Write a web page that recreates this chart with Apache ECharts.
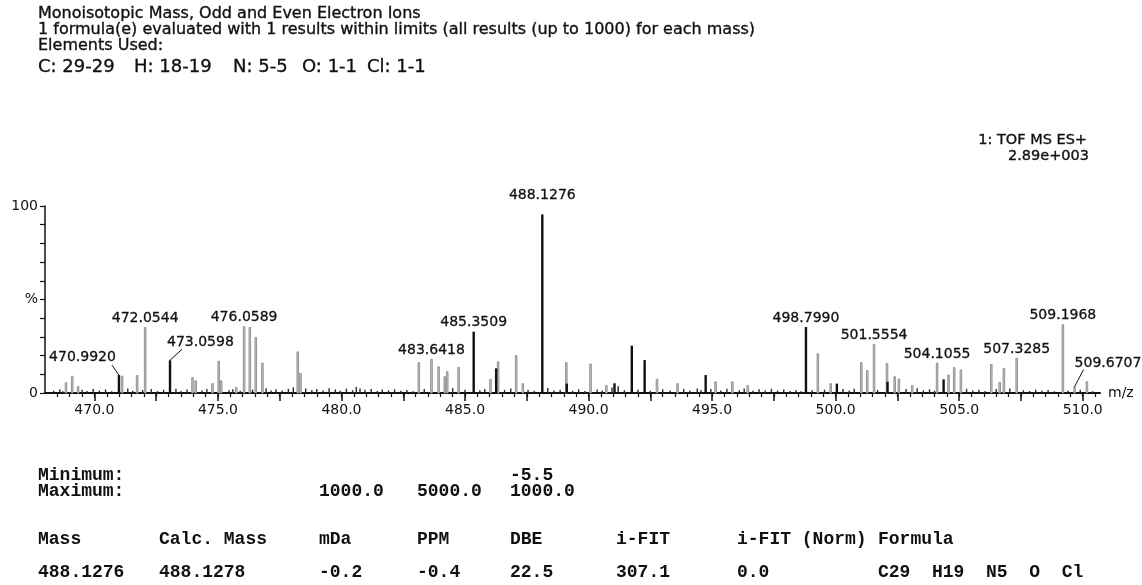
<!DOCTYPE html>
<html>
<head>
<meta charset="utf-8">
<script src="https://cdn.jsdelivr.net/npm/echarts@6/dist/echarts.min.js"></script>
<style>
  html, body { margin: 0; padding: 0; background: #fff; }
  #chart { width: 1142px; height: 585px; }
</style>
</head>
<body>
<div id="chart"></div>
<script>
// ---- spectrum data: [m/z, relative intensity %] ----
// labelled peaks (label text is the m/z value)
const blackLabelled = [
  [470.9920, 9.6], [473.0598, 17.5], [485.3509, 32.8], [488.1276, 95.5], [498.7990, 35.3]
];
const grayLabelled = [
  [472.0544, 35.0], [476.0589, 35.5], [483.6418, 18.0], [501.5554, 26.0],
  [504.1055, 16.0], [507.3285, 18.5], [509.1968, 36.5], [509.6707, 3.4]
];
// unlabelled peaks
const blackPeaks = [
  [486.26, 13.2], [489.12, 5.0], [491.05, 5.2], [491.75, 25.3], [492.27, 17.6],
  [494.74, 9.6], [500.05, 5.0], [502.10, 6.0], [504.37, 7.3]
];
const grayPeaks = [
  [468.85, 5.5], [469.10, 9.0], [469.34, 3.5], [471.12, 9.0], [471.73, 9.3],
  [473.97, 8.2], [474.10, 6.5], [474.78, 5.0], [475.03, 17.0], [475.13, 6.5],
  [475.74, 3.0], [476.29, 35.0], [476.53, 29.7], [476.80, 16.0], [478.23, 22.0],
  [478.34, 10.5], [483.13, 16.2], [483.93, 14.0], [484.18, 8.7], [484.28, 11.4],
  [484.74, 13.7], [486.03, 7.3], [486.34, 16.7], [487.07, 20.0], [487.34, 5.0],
  [489.10, 16.2], [490.08, 15.5], [490.72, 4.0], [492.77, 7.3], [493.60, 5.0],
  [495.14, 6.0], [495.82, 6.0], [496.44, 4.0], [499.28, 21.0], [499.80, 5.0],
  [501.04, 16.3], [501.28, 12.0], [502.08, 15.8], [502.39, 8.7], [502.56, 7.5],
  [503.10, 4.0], [504.57, 9.6], [504.80, 13.6], [505.07, 12.3], [506.30, 15.3],
  [506.64, 5.7], [506.81, 13.2], [510.17, 6.0]
];
// baseline noise spikes
const noisePeaks = [
  [468.35, 1.2], [468.60, 2.0], [468.72, 1.0], [469.50, 1.8], [469.70, 1.1], [469.95, 2.2],
  [470.20, 1.3], [470.45, 1.9], [470.70, 1.0], [471.35, 2.4], [471.55, 1.2], [471.95, 1.6],
  [472.30, 2.1], [472.55, 1.0], [472.80, 1.7], [473.30, 2.3], [473.50, 1.1], [473.75, 1.9],
  [474.35, 1.4], [474.55, 2.2], [475.45, 1.5], [475.60, 2.0], [475.90, 1.2], [476.40, 1.8],
  [476.95, 2.5], [477.15, 1.3], [477.35, 2.0], [477.60, 1.4], [477.85, 2.2], [478.05, 3.0],
  [478.55, 2.4], [478.80, 1.6], [479.00, 2.1], [479.25, 1.3], [479.50, 2.6], [479.75, 1.9],
  [479.95, 1.2], [480.20, 2.3], [480.45, 1.5], [480.60, 3.2], [480.75, 2.4], [480.95, 1.7],
  [481.20, 2.2], [481.45, 1.1], [481.65, 1.9], [481.90, 1.4], [482.15, 2.0], [482.40, 1.2],
  [482.65, 1.6], [482.90, 1.0], [483.35, 2.2], [484.50, 2.6], [485.00, 1.8], [485.60, 1.5],
  [485.80, 2.1], [486.60, 1.7], [486.85, 2.4], [487.55, 1.8], [487.80, 1.2], [488.35, 2.7],
  [488.60, 1.3], [488.85, 1.8], [489.35, 1.2], [489.60, 2.0], [489.85, 1.1], [490.35, 1.9],
  [490.55, 1.3], [490.95, 3.0], [491.20, 3.6], [491.45, 1.5], [492.00, 1.8], [492.50, 1.2],
  [493.00, 2.0], [493.30, 1.4], [493.85, 2.1], [494.10, 1.3], [494.40, 2.4], [494.55, 1.6],
  [494.95, 2.2], [495.35, 1.4], [495.60, 2.3], [496.10, 1.5], [496.30, 2.4], [496.65, 1.2],
  [496.90, 2.0], [497.15, 1.4], [497.40, 2.2], [497.65, 1.3], [497.90, 1.9], [498.15, 1.1],
  [498.40, 1.6], [498.60, 1.0], [499.05, 1.5], [499.55, 1.8], [500.30, 2.2], [500.55, 1.4],
  [500.75, 2.3], [501.70, 1.6], [502.85, 2.1], [503.30, 2.6], [503.55, 1.4], [503.80, 2.0],
  [504.00, 1.2], [505.30, 2.2], [505.55, 1.3], [505.80, 1.8], [506.05, 1.1], [506.50, 2.1],
  [507.05, 2.4], [507.60, 1.5], [507.85, 1.1], [508.10, 1.8], [508.35, 1.2], [508.60, 1.6],
  [508.85, 1.0], [509.40, 1.3], [509.90, 1.7], [510.40, 1.0]
];

// ---- axis ticks ----
const mzLabelTicks = [470, 475, 480, 485, 490, 495, 500, 505, 510];
const mzMajorTicks = [470, 472.5, 475, 477.5, 480, 482.5, 485, 487.5, 490, 492.5,
                      495, 497.5, 500, 502.5, 505, 507.5, 510];
const mzMinorTicks = [];
for (let v = 468.5; v <= 510.5; v += 0.5) mzMinorTicks.push(v);
const intensityLabelTicks = [0, 50, 100];
const intensityLabelText = { 0: '0', 50: '%', 100: '100' };

// ---- header and result table text ----
const titleLines = [
  'Monoisotopic Mass, Odd and Even Electron Ions',
  '1 formula(e) evaluated with 1 results within limits (all results (up to 1000) for each mass)',
  'Elements Used:'
];
const elementRanges = ['C: 29-29', 'H: 18-19', 'N: 5-5', 'O: 1-1', 'Cl: 1-1'];
const instrumentLines = ['1: TOF MS ES+', '2.89e+003'];
const limitNames = ['Minimum:', 'Maximum:'];
const minimumRow = ['', '', '', '', '-5.5'];
const maximumRow = ['', '', '1000.0', '5000.0', '1000.0'];
const columnHeads = ['Mass', 'Calc. Mass', 'mDa', 'PPM', 'DBE', 'i-FIT', 'i-FIT (Norm)', 'Formula'];
const resultRow = ['488.1276', '488.1278', '-0.2', '-0.4', '22.5', '307.1', '0.0', 'C29  H19  N5  O  Cl'];

// ---- layout / style ----
const SANS = '"DejaVu Sans", "Liberation Sans", sans-serif';
const MONO = '"Liberation Mono", "DejaVu Sans Mono", monospace';
const INK = '#111';
const GRAY_EDGE = '#8c8c8c';
const GRAY_FILL = '#c4c4c4';
const TABLE_FONT = 'bold 18px ' + MONO;
const columnX = [38, 159, 319, 417, 510, 616, 737, 878];
const tableRowY = [475, 491, 539, 572];
const elementX = [38, 134, 233, 302, 367];
const titleY = [14, 30, 46, 67];

const defaultPlacement = { align: 'center', dx: 0, dy: -9, leader: null };
const labelPlacement = {
  '470.9920': { align: 'right', dx: -3, dy: -18, leader: [-7, -10] },
  '473.0598': { align: 'left', dx: -3, dy: -18, leader: [12, -11] },
  '509.6707': { align: 'left', dx: 0, dy: -23, leader: [9, -17] },
  '488.1276': { dy: -19 }
};

// solid stick from the baseline up to the peak intensity
function stickSeries(name, data, color, width) {
  return {
    name: name,
    type: 'custom',
    xAxisIndex: 0,
    yAxisIndex: 0,
    data: data,
    silent: true,
    clip: false,
    renderItem: function (params, api) {
      const mz = api.value(0);
      const base = api.coord([mz, 0]);
      const top = api.coord([mz, api.value(1)]);
      return {
        type: 'line',
        shape: { x1: base[0], y1: base[1], x2: top[0], y2: top[1] },
        style: { stroke: color, lineWidth: width }
      };
    }
  };
}

// narrow outlined stick used for the grey peaks
function outlineStickSeries(name, data, edge, fill, width) {
  return {
    name: name,
    type: 'custom',
    xAxisIndex: 0,
    yAxisIndex: 0,
    data: data,
    silent: true,
    clip: false,
    renderItem: function (params, api) {
      const mz = api.value(0);
      const base = api.coord([mz, 0]);
      const top = api.coord([mz, api.value(1)]);
      return {
        type: 'rect',
        shape: { x: top[0] - width / 2, y: top[1], width: width, height: base[1] - top[1] },
        style: { stroke: edge, lineWidth: 0.9, fill: fill }
      };
    }
  };
}

const peakLabelSeries = {
  name: 'labels',
  type: 'custom',
  xAxisIndex: 0,
  yAxisIndex: 0,
  data: blackLabelled.concat(grayLabelled),
  silent: true,
  clip: false,
  z: 5,
  renderItem: function (params, api) {
    const mz = api.value(0);
    const p = api.coord([mz, api.value(1)]);
    const key = mz.toFixed(4);
    const pl = Object.assign({}, defaultPlacement, labelPlacement[key] || {});
    const children = [{
      type: 'text',
      x: p[0] + pl.dx,
      y: p[1] + pl.dy,
      style: {
        text: key,
        font: '14px ' + SANS,
        fill: INK,
        stroke: INK,
        lineWidth: 0.3,
        align: pl.align,
        verticalAlign: 'middle'
      }
    }];
    if (pl.leader) {
      children.push({
        type: 'line',
        shape: { x1: p[0], y1: p[1], x2: p[0] + pl.leader[0], y2: p[1] + pl.leader[1] },
        style: { stroke: INK, lineWidth: 1 }
      });
    }
    return { type: 'group', children: children };
  }
};

function textEl(text, x, y, font, align, heavy) {
  const style = { text: text, font: font, fill: INK, align: align || 'left', verticalAlign: 'middle' };
  if (heavy) { style.stroke = INK; style.lineWidth = 0.35; }
  return { type: 'text', x: x, y: y, silent: true, style: style };
}

const graphics = [];
titleLines.forEach(function (t, i) { graphics.push(textEl(t, 38, titleY[i], '16px ' + SANS, 'left', true)); });
elementRanges.forEach(function (t, i) { graphics.push(textEl(t, elementX[i], titleY[3], '18px ' + SANS, 'left', true)); });
graphics.push(textEl(instrumentLines[0], 1087, 140, '14.5px ' + SANS, 'right', true));
graphics.push(textEl(instrumentLines[1], 1089, 156, '14.5px ' + SANS, 'right', true));
graphics.push(textEl(limitNames[0], columnX[0], tableRowY[0], TABLE_FONT));
graphics.push(textEl(limitNames[1], columnX[0], tableRowY[1], TABLE_FONT));
minimumRow.forEach(function (t, i) { if (t) graphics.push(textEl(t, columnX[i], tableRowY[0], TABLE_FONT)); });
maximumRow.forEach(function (t, i) { if (t) graphics.push(textEl(t, columnX[i], tableRowY[1], TABLE_FONT)); });
columnHeads.forEach(function (t, i) { graphics.push(textEl(t, columnX[i], tableRowY[2], TABLE_FONT)); });
resultRow.forEach(function (t, i) { graphics.push(textEl(t, columnX[i], tableRowY[3], TABLE_FONT)); });

const chart = echarts.init(document.getElementById('chart'), null, { renderer: 'canvas' });
chart.setOption({
  animation: false,
  backgroundColor: '#fff',
  grid: { left: 45, top: 206, right: 42, bottom: 192, containLabel: false },
  xAxis: [{
    type: 'value',
    min: 468,
    max: 510.7,
    name: 'm/z',
    nameLocation: 'end',
    nameGap: 8,
    nameTextStyle: { fontFamily: SANS, fontSize: 14, color: INK, verticalAlign: 'middle' },
    axisLine: { show: true, onZero: false, lineStyle: { color: INK, width: 2 } },
    axisTick: { show: true, customValues: mzMajorTicks, length: 8, lineStyle: { color: INK, width: 1.5 } },
    axisLabel: {
      show: true, customValues: mzLabelTicks, margin: 10,
      fontFamily: SANS, fontSize: 14, color: INK,
      formatter: function (v) { return v.toFixed(1); }
    },
    splitLine: { show: false }
  }, {
    type: 'value',
    min: 468,
    max: 510.7,
    position: 'bottom',
    axisLine: { show: false },
    axisTick: { show: true, customValues: mzMinorTicks, length: 4, lineStyle: { color: INK, width: 1.2 } },
    axisLabel: { show: false },
    splitLine: { show: false }
  }],
  yAxis: {
    type: 'value',
    min: 0,
    max: 100,
    interval: 10,
    axisLine: { show: true, lineStyle: { color: INK, width: 1.5 } },
    axisTick: { show: true, length: 5, lineStyle: { color: INK, width: 1.2 } },
    axisLabel: {
      show: true, customValues: intensityLabelTicks, margin: 7,
      fontFamily: SANS, fontSize: 14, color: INK,
      formatter: function (v) { return intensityLabelText[v]; }
    },
    splitLine: { show: false }
  },
  series: [
    stickSeries('noise', noisePeaks, '#2a2a2a', 1.4),
    outlineStickSeries('gray', grayPeaks.concat(grayLabelled), GRAY_EDGE, GRAY_FILL, 1.6),
    stickSeries('black', blackPeaks.concat(blackLabelled), INK, 2.4),
    peakLabelSeries
  ],
  graphic: graphics
});
</script>
</body>
</html>
